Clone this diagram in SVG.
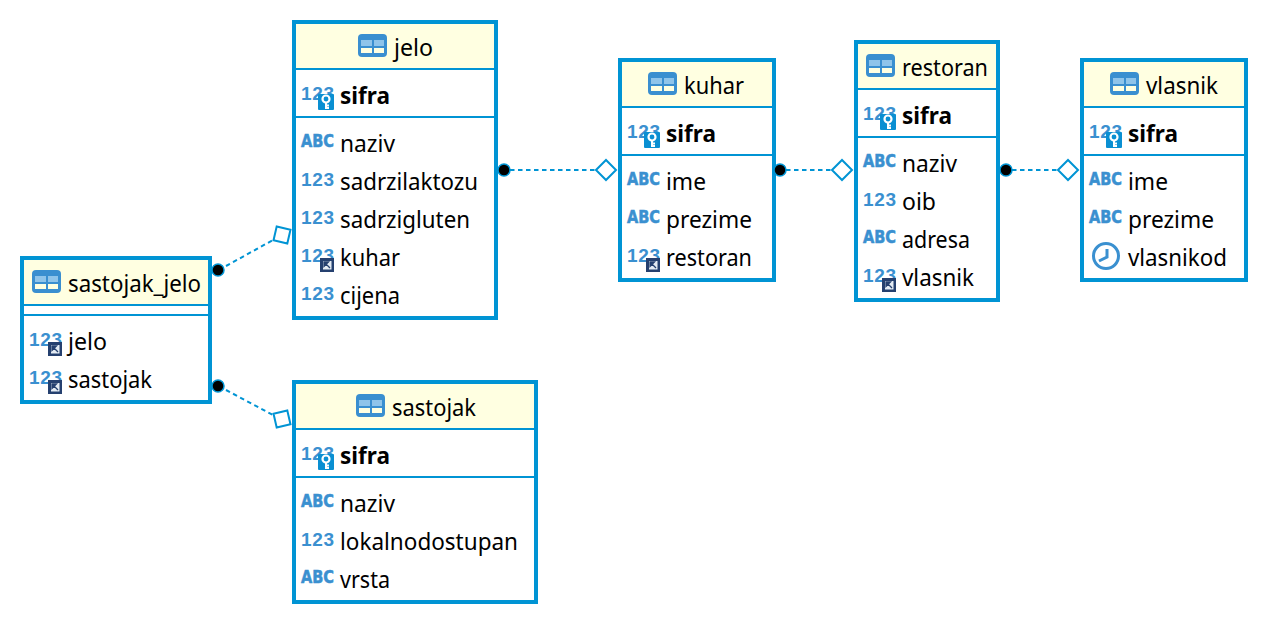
<svg xmlns="http://www.w3.org/2000/svg" width="1268" height="624" viewBox="0 0 1268 624">
<style>
.box{fill:#fff;stroke:#0094d4;stroke-width:4}
.head{fill:#ffffe1}
.sep{stroke:#0094d4;stroke-width:2;fill:none}
.t{font-family:"Noto Sans","Liberation Sans",sans-serif;font-size:23px;fill:#000}
.k{font-weight:700}
.i{font-family:"Liberation Sans",sans-serif;font-size:19px;font-weight:700;fill:#3a90d0}
.ab{font-family:"DejaVu Sans",sans-serif;font-size:18px;font-weight:700;fill:#3a90d0;stroke:#3a90d0;stroke-width:.6}
.c{stroke:#0094d4;stroke-width:2;stroke-dasharray:4.500 3.500;fill:none}
.dot{fill:#000;stroke:#0094d4;stroke-width:1.500}
.dia{fill:#fff;stroke:#0094d4;stroke-width:2}
</style>
<defs>
<g id="tbl"><rect x="0" y="0" width="29" height="23" rx="4" fill="#3a8fd0"/><rect x="3" y="6" width="11" height="6" fill="#8fc4ea"/><rect x="16" y="6" width="10" height="6" fill="#8fc4ea"/><rect x="3" y="14" width="11" height="5" fill="#ffffe1"/><rect x="16" y="14" width="10" height="5" fill="#ffffe1"/></g>
<g id="keyb"><rect x="17" y="-7" width="16" height="16" rx="1" fill="#0a8fd2"/><circle cx="25" cy="-2" r="3.500" fill="none" stroke="#fff" stroke-width="2.200"/><path d="M25 1V8M25 4.500H28M25 7H28" stroke="#fff" stroke-width="2" fill="none"/></g>
<g id="fkb"><rect x="19" y="-8" width="14" height="14" fill="#25406f"/><rect x="22" y="-5" width="8.500" height="8.500" fill="#e4ebf3"/><path d="M23 -4H27.500L23 0.500Z M25 -2L29 2" fill="#25406f" stroke="#25406f" stroke-width="1.300"/></g>
<g id="clk"><circle cx="14" cy="-8" r="12.500" fill="#fff" stroke="#3a90d0" stroke-width="3"/><path d="M15 -15V-7L7 -3" fill="none" stroke="#3a90d0" stroke-width="3"/></g>
</defs>

<g id="node-jelo">
<rect class="box" x="294" y="22" width="202" height="296"/><rect class="head" x="296" y="24" width="198" height="44"/>
<path class="sep" d="M294 69H496M294 117H496"/>
<use href="#tbl" x="358" y="34"/><text class="t" x="394" y="56" textLength="39" lengthAdjust="spacingAndGlyphs">jelo</text>
<text class="i" x="301" y="100" textLength="33">123</text><use href="#keyb" x="301" y="101"/><text class="t k" x="340" y="104" textLength="50" lengthAdjust="spacingAndGlyphs">sifra</text>
<text class="ab" x="301" y="147" textLength="33" lengthAdjust="spacingAndGlyphs">ABC</text><text class="t" x="340" y="152" textLength="55" lengthAdjust="spacingAndGlyphs">naziv</text>
<text class="i" x="301" y="186" textLength="33">123</text><text class="t" x="340" y="190" textLength="138" lengthAdjust="spacingAndGlyphs">sadrzilaktozu</text>
<text class="i" x="301" y="224" textLength="33">123</text><text class="t" x="340" y="228" textLength="130" lengthAdjust="spacingAndGlyphs">sadrzigluten</text>
<text class="i" x="301" y="262" textLength="33">123</text><use href="#fkb" x="301" y="266"/><text class="t" x="340" y="266" textLength="60" lengthAdjust="spacingAndGlyphs">kuhar</text>
<text class="i" x="301" y="300" textLength="33">123</text><text class="t" x="340" y="304" textLength="60" lengthAdjust="spacingAndGlyphs">cijena</text>
</g>

<g id="node-sastojak_jelo">
<rect class="box" x="22" y="258" width="188" height="144"/><rect class="head" x="24" y="260" width="184" height="44"/>
<path class="sep" d="M22 305H210M22 315H210"/>
<use href="#tbl" x="32" y="270"/><text class="t" x="68" y="292" textLength="133" lengthAdjust="spacingAndGlyphs">sastojak_jelo</text>
<text class="i" x="29" y="346" textLength="33">123</text><use href="#fkb" x="29" y="350"/><text class="t" x="68" y="350" textLength="39" lengthAdjust="spacingAndGlyphs">jelo</text>
<text class="i" x="29" y="384" textLength="33">123</text><use href="#fkb" x="29" y="388"/><text class="t" x="68" y="388" textLength="84" lengthAdjust="spacingAndGlyphs">sastojak</text>
</g>

<g id="node-sastojak">
<rect class="box" x="294" y="382" width="242" height="220"/><rect class="head" x="296" y="384" width="238" height="44"/>
<path class="sep" d="M294 429H536M294 477H536"/>
<use href="#tbl" x="356" y="394"/><text class="t" x="392" y="416" textLength="84" lengthAdjust="spacingAndGlyphs">sastojak</text>
<text class="i" x="301" y="460" textLength="33">123</text><use href="#keyb" x="301" y="461"/><text class="t k" x="340" y="464" textLength="50" lengthAdjust="spacingAndGlyphs">sifra</text>
<text class="ab" x="301" y="507" textLength="33" lengthAdjust="spacingAndGlyphs">ABC</text><text class="t" x="340" y="512" textLength="55" lengthAdjust="spacingAndGlyphs">naziv</text>
<text class="i" x="301" y="546" textLength="33">123</text><text class="t" x="340" y="550" textLength="178" lengthAdjust="spacingAndGlyphs">lokalnodostupan</text>
<text class="ab" x="301" y="583" textLength="33" lengthAdjust="spacingAndGlyphs">ABC</text><text class="t" x="340" y="588" textLength="50" lengthAdjust="spacingAndGlyphs">vrsta</text>
</g>

<g id="node-kuhar">
<rect class="box" x="620" y="60" width="154" height="220"/><rect class="head" x="622" y="62" width="150" height="44"/>
<path class="sep" d="M620 107H774M620 155H774"/>
<use href="#tbl" x="648" y="72"/><text class="t" x="684" y="94" textLength="60" lengthAdjust="spacingAndGlyphs">kuhar</text>
<text class="i" x="627" y="138" textLength="33">123</text><use href="#keyb" x="627" y="139"/><text class="t k" x="666" y="142" textLength="50" lengthAdjust="spacingAndGlyphs">sifra</text>
<text class="ab" x="627" y="185" textLength="33" lengthAdjust="spacingAndGlyphs">ABC</text><text class="t" x="666" y="190" textLength="40" lengthAdjust="spacingAndGlyphs">ime</text>
<text class="ab" x="627" y="223" textLength="33" lengthAdjust="spacingAndGlyphs">ABC</text><text class="t" x="666" y="228" textLength="86" lengthAdjust="spacingAndGlyphs">prezime</text>
<text class="i" x="627" y="262" textLength="33">123</text><use href="#fkb" x="627" y="266"/><text class="t" x="666" y="266" textLength="86" lengthAdjust="spacingAndGlyphs">restoran</text>
</g>

<g id="node-restoran">
<rect class="box" x="856" y="42" width="142" height="258"/><rect class="head" x="858" y="44" width="138" height="44"/>
<path class="sep" d="M856 89H998M856 137H998"/>
<use href="#tbl" x="866" y="54"/><text class="t" x="902" y="76" textLength="86" lengthAdjust="spacingAndGlyphs">restoran</text>
<text class="i" x="863" y="120" textLength="33">123</text><use href="#keyb" x="863" y="121"/><text class="t k" x="902" y="124" textLength="50" lengthAdjust="spacingAndGlyphs">sifra</text>
<text class="ab" x="863" y="167" textLength="33" lengthAdjust="spacingAndGlyphs">ABC</text><text class="t" x="902" y="172" textLength="55" lengthAdjust="spacingAndGlyphs">naziv</text>
<text class="i" x="863" y="206" textLength="33">123</text><text class="t" x="902" y="210" textLength="34" lengthAdjust="spacingAndGlyphs">oib</text>
<text class="ab" x="863" y="243" textLength="33" lengthAdjust="spacingAndGlyphs">ABC</text><text class="t" x="902" y="248" textLength="68" lengthAdjust="spacingAndGlyphs">adresa</text>
<text class="i" x="863" y="282" textLength="33">123</text><use href="#fkb" x="863" y="286"/><text class="t" x="902" y="286" textLength="72" lengthAdjust="spacingAndGlyphs">vlasnik</text>
</g>

<g id="node-vlasnik">
<rect class="box" x="1082" y="60" width="164" height="220"/><rect class="head" x="1084" y="62" width="160" height="44"/>
<path class="sep" d="M1082 107H1246M1082 155H1246"/>
<use href="#tbl" x="1110" y="72"/><text class="t" x="1146" y="94" textLength="72" lengthAdjust="spacingAndGlyphs">vlasnik</text>
<text class="i" x="1089" y="138" textLength="33">123</text><use href="#keyb" x="1089" y="139"/><text class="t k" x="1128" y="142" textLength="50" lengthAdjust="spacingAndGlyphs">sifra</text>
<text class="ab" x="1089" y="185" textLength="33" lengthAdjust="spacingAndGlyphs">ABC</text><text class="t" x="1128" y="190" textLength="40" lengthAdjust="spacingAndGlyphs">ime</text>
<text class="ab" x="1089" y="223" textLength="33" lengthAdjust="spacingAndGlyphs">ABC</text><text class="t" x="1128" y="228" textLength="86" lengthAdjust="spacingAndGlyphs">prezime</text>
<use href="#clk" x="1092" y="264"/><text class="t" x="1128" y="266" textLength="99" lengthAdjust="spacingAndGlyphs">vlasnikod</text>
</g>

<g id="connectors">
<path class="c" d="M510 170H596"/><path class="c" d="M786 170H832"/><path class="c" d="M1012 170H1058"/><path class="c" d="M226 266L273 240"/><path class="c" d="M226 390L273 415"/>
<circle class="dot" cx="504" cy="170" r="6"/><polygon class="dia" points="596,170 606,160 616,170 606,180"/>
<circle class="dot" cx="780" cy="170" r="6"/><polygon class="dia" points="832,170 842,160 852,170 842,180"/>
<circle class="dot" cx="1006" cy="170" r="6"/><polygon class="dia" points="1058,170 1068,160 1078,170 1068,180"/>
<circle class="dot" cx="218" cy="270" r="6"/><polygon class="dia" transform="rotate(-32 282 235)" points="272,235 282,225 292,235 282,245"/>
<circle class="dot" cx="218" cy="386" r="6"/><polygon class="dia" transform="rotate(32 282 419)" points="272,419 282,409 292,419 282,429"/>
</g>
</svg>
